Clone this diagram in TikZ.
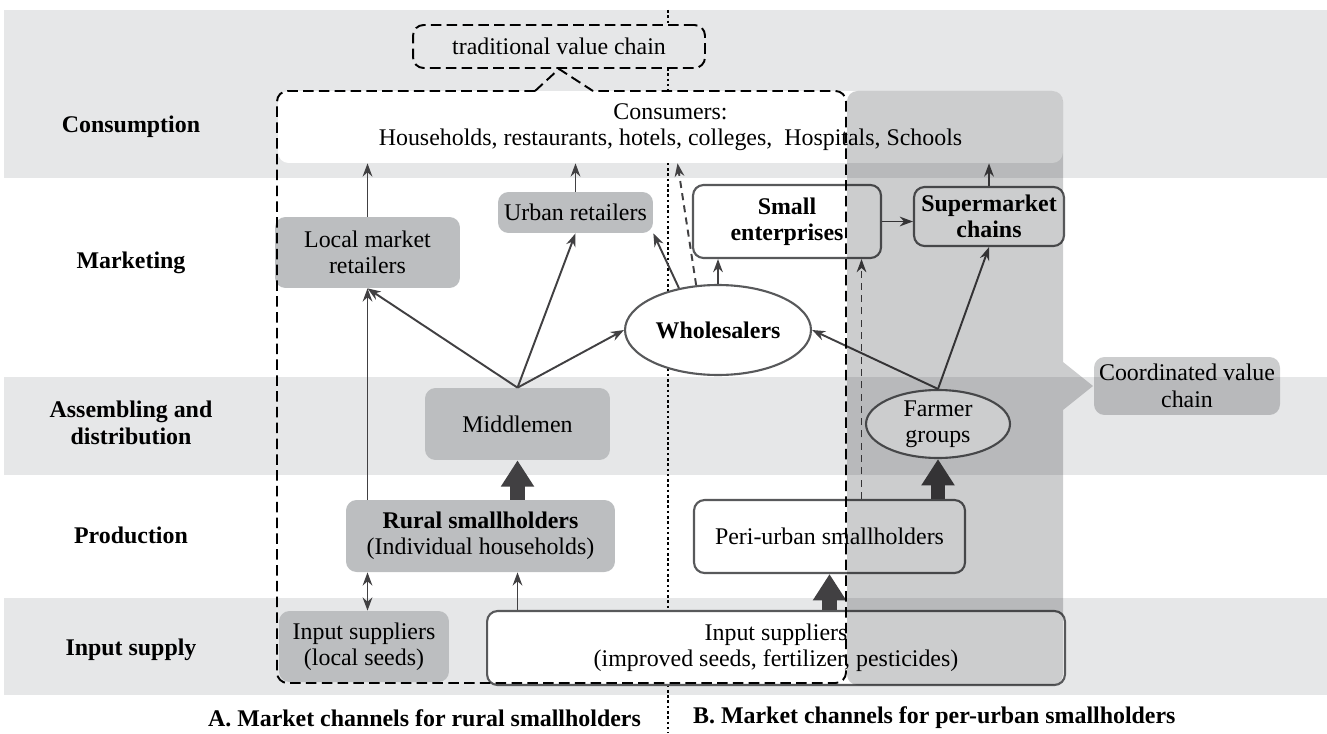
\documentclass[tikz,border=0pt]{standalone}
\usepackage{fontspec}
\setmainfont{Liberation Serif}
\usetikzlibrary{arrows.meta,shapes.geometric,calc}
\definecolor{bandgray}{HTML}{E6E7E8}
\definecolor{boxgray}{HTML}{BCBEC0}
\definecolor{coordgray}{HTML}{CCCDCE}
\definecolor{linegray}{HTML}{414042}
\definecolor{edgegray}{HTML}{58595B}
\newcommand\chfont{\fontsize{13.6}{15}\selectfont}
\tikzset{
  band/.style={fill=bandgray},
  rowlabel/.style={font=\chfont\bfseries, align=center},
  gbox/.style={rectangle, rounded corners=6pt, fill=boxgray, align=center, inner sep=1pt},
  wbox/.style={gbox, fill=white, draw=edgegray, line width=1.2pt},
  oval/.style={ellipse, draw=edgegray, line width=1.2pt, fill=white, align=center, inner sep=0pt},
  tip/.tip={Stealth[length=7.5pt,width=5.5pt]},
  arr/.style={draw=linegray, line width=1.1pt, -tip},
  fat/.style={draw=linegray, line width=8.5pt, -{Triangle[width=18pt,length=15pt]}},
  bigdash/.style={draw=black, line width=1.1pt, dash pattern=on 6pt off 3pt},
  thindash/.style={dash pattern=on 4pt off 3pt},
  sep/.style={draw=black, line width=0.7pt, dash pattern=on 1.5pt off 1.5pt},
  coord/.style={fill=coordgray, blend mode=multiply}
}
\begin{document}
\begin{tikzpicture}[x=0.02cm, y=-0.02cm, font=\chfont]
\useasboundingbox (0,0) rectangle (1327,733);
\fill[band] (4,10) rectangle (1327,178);
\fill[band] (4,377) rectangle (1327,475);
\fill[band] (4,598) rectangle (1327,695);
\coordinate (septop) at (668,10);
\coordinate (sepbot) at (668,733);
\draw[sep] (septop) -- (sepbot);

\foreach \y/\t/\n in {127/Consumption/cons, 263/Marketing/mark, 423/{Assembling and\\distribution}/asse, 535/Production/prod, 650/Input supply/inpu}
  \node[rowlabel] (row\n) at (131,\y) {\t};

\node[gbox, fill=white, minimum width=15.7cm, minimum height=1.44cm] (cons) at (670.5,127) {Consumers:\\Households, restaurants, hotels, colleges, \ Hospitals, Schools};
\node[gbox, fill=bandgray, draw=black, line width=1.1pt, dash pattern=on 6pt off 3pt, minimum width=5.84cm, minimum height=0.86cm] (trad) at (559,46.5) {traditional value chain};

\node[gbox, minimum width=3.7cm, minimum height=1.42cm] (lmr) at (367.5,252.5) {Local market\\retailers};
\node[gbox, minimum width=3.1cm, minimum height=0.82cm] (ur) at (575.5,212.5) {Urban retailers};
\node[wbox, minimum width=3.76cm, minimum height=1.46cm, font=\chfont\bfseries] (small) at (787,221.5) {Small\\enterprises};
\node[wbox, minimum width=3.0cm, minimum height=1.18cm, font=\chfont\bfseries] (sup) at (989,216.5) {Supermarket\\chains};
\node[oval, minimum width=3.72cm, minimum height=1.8cm, font=\chfont\bfseries] (whole) at (718,330) {Wholesalers};
\node[gbox, minimum width=3.7cm, minimum height=1.44cm] (mid) at (517.5,424) {Middlemen};
\node[oval, minimum width=2.88cm, minimum height=1.36cm] (farm) at (938,424) {Farmer\\groups};
\node[gbox, minimum width=5.38cm, minimum height=1.44cm] (rural) at (480.5,536) {\textbf{Rural smallholders}\\(Individual households)};
\node[wbox, minimum width=5.42cm, minimum height=1.46cm] (peri) at (829.5,536.5) {Peri-urban smallholders};
\node[gbox, minimum width=3.4cm, minimum height=1.42cm] (loc) at (364,646.5) {Input suppliers\\(local seeds)};
\node[wbox, minimum width=11.56cm, minimum height=1.48cm] (inp) at (776,648) {Input suppliers\\(improved seeds, fertilizer, pesticides)};

\draw[arr] (lmr.north) -- (lmr.north |- cons.south);
\draw[arr] (ur.north) -- (ur.north |- cons.south);
\draw[arr] (sup.north) -- (sup.north |- cons.south);
\draw[arr, thindash] (whole.116) -- ($(cons.south)+(7,0)$);
\draw[arr] (whole.133) -- (ur.south east);
\draw[arr] (whole.north) -- (whole.north |- small.south);
\draw[arr] (small.east) -- (small.east -| sup.west);
\draw[arr] (mid.north) -- (lmr.south);
\draw[arr] (mid.north) -- (ur.south);
\draw[arr] (mid.north) -- (whole.west);
\draw[arr] (rural.north -| lmr.south) -- (lmr.south);
\draw[fat] (rural.north -| mid.south) -- (mid.south);
\draw[arr, tip-tip] (loc.north -| lmr.south) -- (rural.south -| lmr.south);
\draw[arr] (inp.north -| mid.south) -- (rural.south -| mid.south);
\draw[fat] (inp.north -| peri.south) -- (peri.south);
\draw[fat] (peri.north -| farm.south) -- (farm.south);
\coordinate (pk) at ($(peri.north)+(32,0)$);
\draw[arr, thindash] (pk) -- (pk |- small.south);
\draw[arr] (farm.north) -- (sup.south);
\draw[arr] (farm.north) -- (whole.east);

\coordinate (gapl) at (535,91);
\coordinate (gapr) at (593,91);
\draw[bigdash, rounded corners=6pt] (gapl) -- (277,91) -- (277,683) -- (846,683) -- (846,91) -- (gapr);
\draw[bigdash] (gapl) -- (trad.south) -- (gapr);

\fill[coord] [rounded corners=6pt] (847,300) -- (847,91) -- (1063,91) -- (1063,300) [sharp corners] -- (1063,362) -- (1093,386) -- (1063,410) -- (1063,500) [rounded corners=6pt] -- (1063,685) -- (847,685) -- cycle;
\node[gbox, coord, minimum width=3.72cm, minimum height=1.16cm] (cvc) at (1187,386) {Coordinated value\\chain};

\node[rowlabel, anchor=east] (capa) at (647,718) {A. Market channels for rural smallholders};
\node[rowlabel, anchor=west] (capb) at (687,718) {B. Market channels for per-urban smallholders};
\end{tikzpicture}
\end{document}
